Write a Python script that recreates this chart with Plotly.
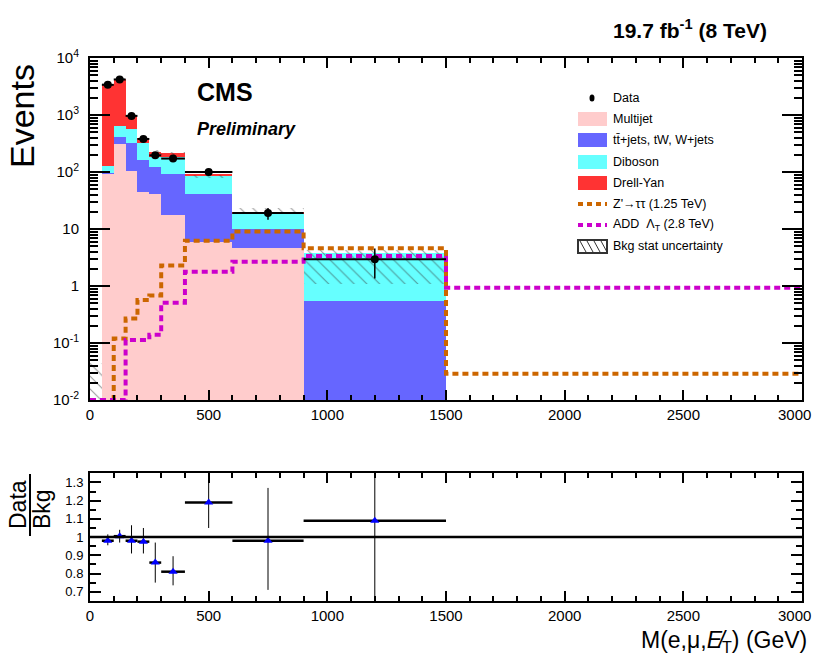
import numpy as np
import plotly.graph_objects as go

W, H = 814, 672

# ---- binning (GeV) ----
bkg_edges = [50, 100, 150, 200, 250, 300, 400, 600, 900, 1500]
sig_edges = [0, 50, 100, 150, 200, 250, 300, 400, 600, 900, 1500, 3000]
band_edges = [0, 50, 100, 150, 200, 250, 300, 400, 600, 900, 1500]

# ---- stacked backgrounds (events per bin) ----
multijet = [95, 309, 105, 44.6, 41, 17.6, 6.0, 4.7, 0.0]
top_wjets = [3, 108, 214, 117, 83, 74, 35, 5.2, 0.55]
diboson = [29, 224, 242, 156, 57, 89, 47, 9.1, 3.25]
drell_yan = [3343, 3589, 425, 72, 47, 31, 1.0, 0.3, 0.0]

# ---- background statistical uncertainty band ----
band_lo = [0.002, 3300, 4000, 940, 370, 210, 195, 78, 18.0, 1.1]
band_hi = [0.044, 3600, 4450, 1030, 410, 245, 225, 90, 23.5, 4.3]

# ---- observed data ----
data_y = [3380, 4200, 965, 380, 196, 172, 100, 19.0, 2.95]
data_err = [58, 65, 31, 19, 14, 13, 10, 4.4, 1.6]

# ---- signal hypotheses ----
zprime = [0.005, 0.005, 0.12, 0.27, 0.57, 0.68, 2.3, 6.2, 9.0, 4.6, 0.029]
add_lt = [0.01, 0.01, 0.01, 0.113, 0.113, 0.14, 0.51, 1.78, 2.67, 3.36, 0.93]

# ---- data / background ratio ----
ratio = [0.98, 1.005, 0.98, 0.975, 0.86, 0.81, 1.19, 0.98, 1.09]
ratio_up = [0.035, 0.035, 0.085, 0.075, 0.11, 0.085, 0.2, 0.29, 0.6]
ratio_dn = [0.025, 0.035, 0.07, 0.065, 0.11, 0.075, 0.14, 0.27, 0.6]

x_ticks = [0, 500, 1000, 1500, 2000, 2500, 3000]
x_ticktext = ["0", "500", "1000", "1500", "2000", "2500", ""]
x_last_label = "3000"
y_ticks = [0.01, 0.1, 1, 10, 100, 1000, 10000]
y_ticktext = ["10<sup>-2</sup>", "10<sup>-1</sup>", "1", "10",
              "10<sup>2</sup>", "10<sup>3</sup>", "10<sup>4</sup>"]
r_ticks = [0.7, 0.8, 0.9, 1.0, 1.1, 1.2, 1.3]
r_ticktext = ["0.7", "0.8", "0.9", "1", "1.1", "1.2", "1.3"]

COL_MJ = "#FFCCCC"
COL_TOP = "#6666FF"
COL_VV = "#66FFFF"
COL_DY = "#FF3333"
COL_ZP = "#CC6600"
COL_ADD = "#CC00CC"

FONT = "Liberation Sans, Arial, sans-serif"


def px(x):
    return x / W


def py(y):
    return 1 - y / H


be = np.array(bkg_edges, dtype=float)
centers = 0.5 * (be[:-1] + be[1:])
widths = be[1:] - be[:-1]

fig = go.Figure()

# stacked backgrounds drawn as bars sitting on the running sum
floor = 1e-4
base = np.full(len(centers), floor)
for vals, col, name in [(multijet, COL_MJ, "Multijet"),
                        (top_wjets, COL_TOP, "top"),
                        (diboson, COL_VV, "Diboson"),
                        (drell_yan, COL_DY, "Drell-Yan")]:
    v = np.array(vals, dtype=float)
    fig.add_trace(go.Bar(x=centers, y=v, base=base, width=widths,
                         marker=dict(color=col, line=dict(width=0)),
                         name=name, showlegend=False,
                         xaxis="x", yaxis="y"))
    base = base + v

# hatched stat band
bde = np.array(band_edges, dtype=float)
bc = 0.5 * (bde[:-1] + bde[1:])
bw = bde[1:] - bde[:-1]
lo = np.array(band_lo)
hi = np.array(band_hi)
fig.add_trace(go.Bar(x=bc, y=hi - lo, base=lo, width=bw,
                     marker=dict(color="rgba(0,0,0,0)", line=dict(width=0),
                                 pattern=dict(shape="\\", fgcolor="#333333",
                                              bgcolor="rgba(0,0,0,0)",
                                              size=9, solidity=0.12)),
                     showlegend=False, xaxis="x", yaxis="y"))

# signal step histograms
for vals, col in [(zprime, COL_ZP), (add_lt, COL_ADD)]:
    fig.add_trace(go.Scatter(x=sig_edges, y=list(vals) + [vals[-1]],
                             mode="lines", line=dict(shape="hv", color=col,
                                                     width=4, dash="6px,4px"),
                             showlegend=False, xaxis="x", yaxis="y"))

# data
fig.add_trace(go.Scatter(x=centers, y=data_y, mode="markers",
                         marker=dict(color="black", size=8),
                         error_x=dict(type="data", array=widths / 2, width=0,
                                      thickness=2, color="black"),
                         error_y=dict(type="data", array=data_err, width=0,
                                      thickness=1.5, color="black"),
                         showlegend=False, xaxis="x", yaxis="y"))

# ratio panel
fig.add_trace(go.Scatter(x=centers, y=ratio, mode="markers",
                         marker=dict(color="#0000FF", size=8, symbol="triangle-up"),
                         error_x=dict(type="data", array=widths / 2, width=0,
                                      thickness=2.5, color="black"),
                         error_y=dict(type="data", symmetric=False, array=ratio_up,
                                      arrayminus=ratio_dn, width=0,
                                      thickness=1, color="black"),
                         showlegend=False, xaxis="x2", yaxis="y2"))

xdom = [px(90), px(802)]
axis_common = dict(showline=True, linewidth=2, linecolor="black", mirror="allticks",
                   ticks="inside", showgrid=False, zeroline=False,
                   tickcolor="black", tickwidth=1.5, automargin=False)

log_minor = [m * 10.0 ** k for k in range(-2, 4) for m in range(2, 10)]

fig.update_layout(
    width=W, height=H,
    margin=dict(l=0, r=0, t=0, b=0, autoexpand=False),
    paper_bgcolor="white", plot_bgcolor="white",
    barmode="overlay", bargap=0,
    showlegend=False,
    font=dict(family=FONT, color="black"),
    xaxis=dict(domain=xdom, range=[0, 3000], anchor="y",
               tickvals=x_ticks, ticktext=x_ticktext, ticklen=10,
               minor=dict(dtick=100, ticks="inside", ticklen=5, tickcolor="black"),
               tickfont=dict(size=15, family=FONT), **axis_common),
    yaxis=dict(domain=[py(400), py(58)], type="log", range=[-2, 4], anchor="x",
               tickvals=y_ticks, ticktext=y_ticktext, ticklen=20,
               ticklabelstandoff=6,
               minor=dict(tickvals=log_minor, ticks="inside", ticklen=8,
                          tickcolor="black"),
               tickfont=dict(size=15, family=FONT), **axis_common),
    xaxis2=dict(domain=xdom, range=[0, 3000], anchor="y2",
                tickvals=x_ticks, ticktext=x_ticktext, ticklen=10,
                minor=dict(dtick=100, ticks="inside", ticklen=5, tickcolor="black"),
                tickfont=dict(size=15, family=FONT), **axis_common),
    yaxis2=dict(domain=[py(601), py(473)], range=[0.649, 1.352], anchor="x2",
                tickvals=r_ticks, ticktext=r_ticktext, ticklen=11,
                ticklabelstandoff=2,
                minor=dict(dtick=0.05, ticks="inside", ticklen=6, tickcolor="black"),
                tickfont=dict(size=13, family=FONT), **axis_common),
)

shapes = []
# unity line in the ratio panel
shapes.append(dict(type="line", xref="x2", yref="y2", x0=0, x1=3000, y0=1, y1=1,
                   line=dict(color="black", width=2.5)))

annotations = []


def text(x, y, s, size, xanchor="left", yanchor="middle", angle=0):
    annotations.append(dict(x=px(x), y=py(y), xref="paper", yref="paper", text=s,
                            showarrow=False, xanchor=xanchor, yanchor=yanchor,
                            textangle=angle, borderpad=0,
                            font=dict(size=size, family=FONT, color="black")))


# last x tick label kept inside the page edge
text(812, 414, x_last_label, 15, xanchor="right")
text(812, 615, x_last_label, 15, xanchor="right")

text(196, 92, "<b>CMS</b>", 25)
text(196, 129, "<b><i>Preliminary</i></b>", 18)
text(768, 29, "<b>19.7 fb<sup>-1</sup> (8 TeV)</b>", 21, xanchor="right")
text(22, 116, "Events", 34, xanchor="center", angle=-90)
text(18, 505, "Data", 23, xanchor="center", angle=-90)
text(42, 509, "Bkg", 23, xanchor="center", angle=-90)
shapes.append(dict(type="line", xref="paper", yref="paper",
                   x0=px(30), x1=px(30), y0=py(474), y1=py(536),
                   line=dict(color="black", width=2)))
text(808, 641, "M(e,μ,<i>E\u0338</i><sub>T</sub>) (GeV)", 23, xanchor="right")

# legend
lx0, lx1, tx = 578, 607, 612
LS = 12.5
shapes.append(dict(type="circle", xref="paper", yref="paper",
                   x0=px(589.5), x1=px(594.5), y0=py(94.5), y1=py(101.5),
                   fillcolor="black", line=dict(width=0)))
text(tx, 98, "Data", LS)
for yc, col, lab in [(119, COL_MJ, "Multijet"),
                     (140, COL_TOP, "tt\u0304+jets, tW, W+jets"),
                     (162, COL_VV, "Diboson"),
                     (183, COL_DY, "Drell-Yan")]:
    shapes.append(dict(type="rect", xref="paper", yref="paper",
                       x0=px(lx0), x1=px(lx1), y0=py(yc + 7), y1=py(yc - 7),
                       fillcolor=col, line=dict(width=0)))
    text(tx, yc, lab, LS)
for yc, col, lab in [(204, COL_ZP, "Z'→ττ (1.25 TeV)"),
                     (225, COL_ADD, "ADD  Λ<sub>T</sub> (2.8 TeV)")]:
    shapes.append(dict(type="line", xref="paper", yref="paper",
                       x0=px(lx0), x1=px(lx1), y0=py(yc), y1=py(yc),
                       line=dict(color=col, width=4, dash="5px,4px")))
    text(tx, yc, lab, LS)
shapes.append(dict(type="rect", xref="paper", yref="paper",
                   x0=px(lx0), x1=px(lx1), y0=py(253), y1=py(240),
                   fillcolor="white", line=dict(color="#333333", width=2)))
for xs in [580, 587, 594, 601]:
    shapes.append(dict(type="line", xref="paper", yref="paper",
                       x0=px(xs), x1=px(min(xs + 6, lx1)), y0=py(241), y1=py(252),
                       line=dict(color="#333333", width=1)))
text(tx, 246, "Bkg stat uncertainty", LS)

fig.update_layout(shapes=shapes, annotations=annotations)

fig.write_html("out.html")
